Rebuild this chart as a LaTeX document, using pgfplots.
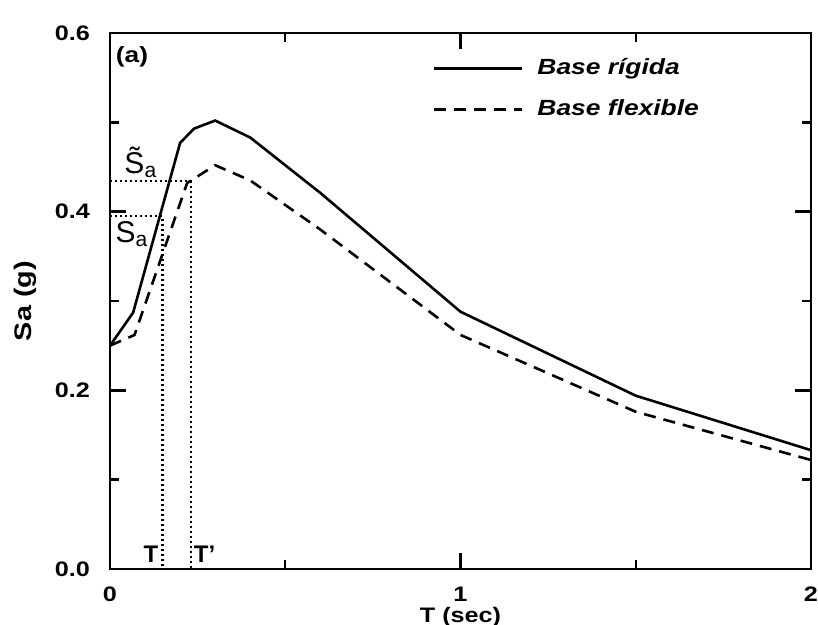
\documentclass[border=0pt]{standalone}
\usepackage{pgfplots}
\pgfplotsset{compat=1.18}
\usepackage{fontspec}
\setmainfont{Liberation Sans}[FakeStretch=1.2]
\setsansfont{Liberation Sans}[FakeStretch=1.2]
\newfontfamily\plainsf{Liberation Sans}

% T in s, Sa in g
\pgfplotstableread{
T Sa
0.000 0.250
0.066 0.287
0.200 0.477
0.240 0.493
0.300 0.502
0.400 0.483
0.600 0.421
1.000 0.288
1.500 0.194
2.000 0.133
}\rigida
\pgfplotstableread{
T Sa
0.000 0.250
0.070 0.262
0.220 0.432
0.300 0.452
0.400 0.435
0.600 0.380
1.000 0.262
1.500 0.176
2.000 0.122
}\flexible

\begin{document}
\begin{tikzpicture}
\begin{axis}[
  name=ax,
  width=350.5pt, height=268pt, scale only axis,
  xmin=0, xmax=2, ymin=0, ymax=0.6,
  xtick={0,1,2}, minor xtick={0.5,1.5},
  ytick={0,0.2,0.4,0.6}, minor ytick={0.1,0.3,0.5},
  tick align=inside, ticks=both,
  major tick length=8pt, minor tick length=4.5pt,
  every tick/.style={black, line width=1.2pt},
  axis line style={line width=1.3pt},
  tick label style={font=\fontsize{10.5}{12}\selectfont\bfseries},
  /pgf/number format/assume math mode=true,
  yticklabel style={/pgf/number format/fixed, /pgf/number format/fixed zerofill, /pgf/number format/precision=1, xshift=-6.5pt},
  xticklabel style={yshift=-5.5pt},
  xlabel={T (sec)}, ylabel={Sa (g)},
  xlabel style={font=\fontsize{10.5}{12}\selectfont\bfseries, at={(axis description cs:0.5,0)}, anchor=center, yshift=-24pt},
  ylabel style={font=\fontsize{12}{14}\selectfont\bfseries, at={(axis description cs:0,0.5)}, anchor=center, yshift=42.5pt},
  clip=false,
  legend style={draw=none, fill=none, at={(axis cs:0.92,0.576)}, anchor=north west,
    font=\fontsize{11}{13}\selectfont\bfseries\itshape, row sep=7pt,
    inner sep=0pt, column sep=5pt},
  legend cell align=left,
  legend image code/.code={\draw[#1] (0pt,0pt) -- (44pt,0pt);},
]
\addplot[black, line width=1.3pt] table[x=T, y=Sa] {\rigida};
\addlegendentry{Base rígida}
\addplot[black, line width=1.3pt, dash pattern=on 6pt off 4pt] table[x=T, y=Sa] {\flexible};
\addlegendentry{Base flexible}

% construction lines for T, T'
\addplot[black, line width=1.1pt, dash pattern=on 1pt off 1.5pt, forget plot]
  coordinates {(0,0.395) (0.150,0.395) (0.150,0)};
\addplot[black, line width=1.1pt, dash pattern=on 1pt off 1.5pt, forget plot]
  coordinates {(0,0.434) (0.230,0.434) (0.230,0)};

\node[font=\fontsize{11}{13}\selectfont\bfseries] at (axis cs:0.063,0.573) {(a)};
\node[font=\plainsf\fontsize{15}{17}\selectfont] at (axis cs:0.088,0.455) {\~{S}\textsubscript{a}};
\node[font=\plainsf\fontsize{15}{17}\selectfont] at (axis cs:0.063,0.375) {S\textsubscript{a}};
\node[font=\plainsf\fontsize{12}{14}\selectfont\bfseries] at (axis cs:0.117,0.016) {T};
\node[font=\plainsf\fontsize{12}{14}\selectfont\bfseries] at (axis cs:0.27,0.016) {T’};
\end{axis}
\pgfresetboundingbox
\path ([shift={(-55pt,-28pt)}]ax.south west) rectangle ([shift={(3.5pt,16.5pt)}]ax.north east);
\end{tikzpicture}
\end{document}
